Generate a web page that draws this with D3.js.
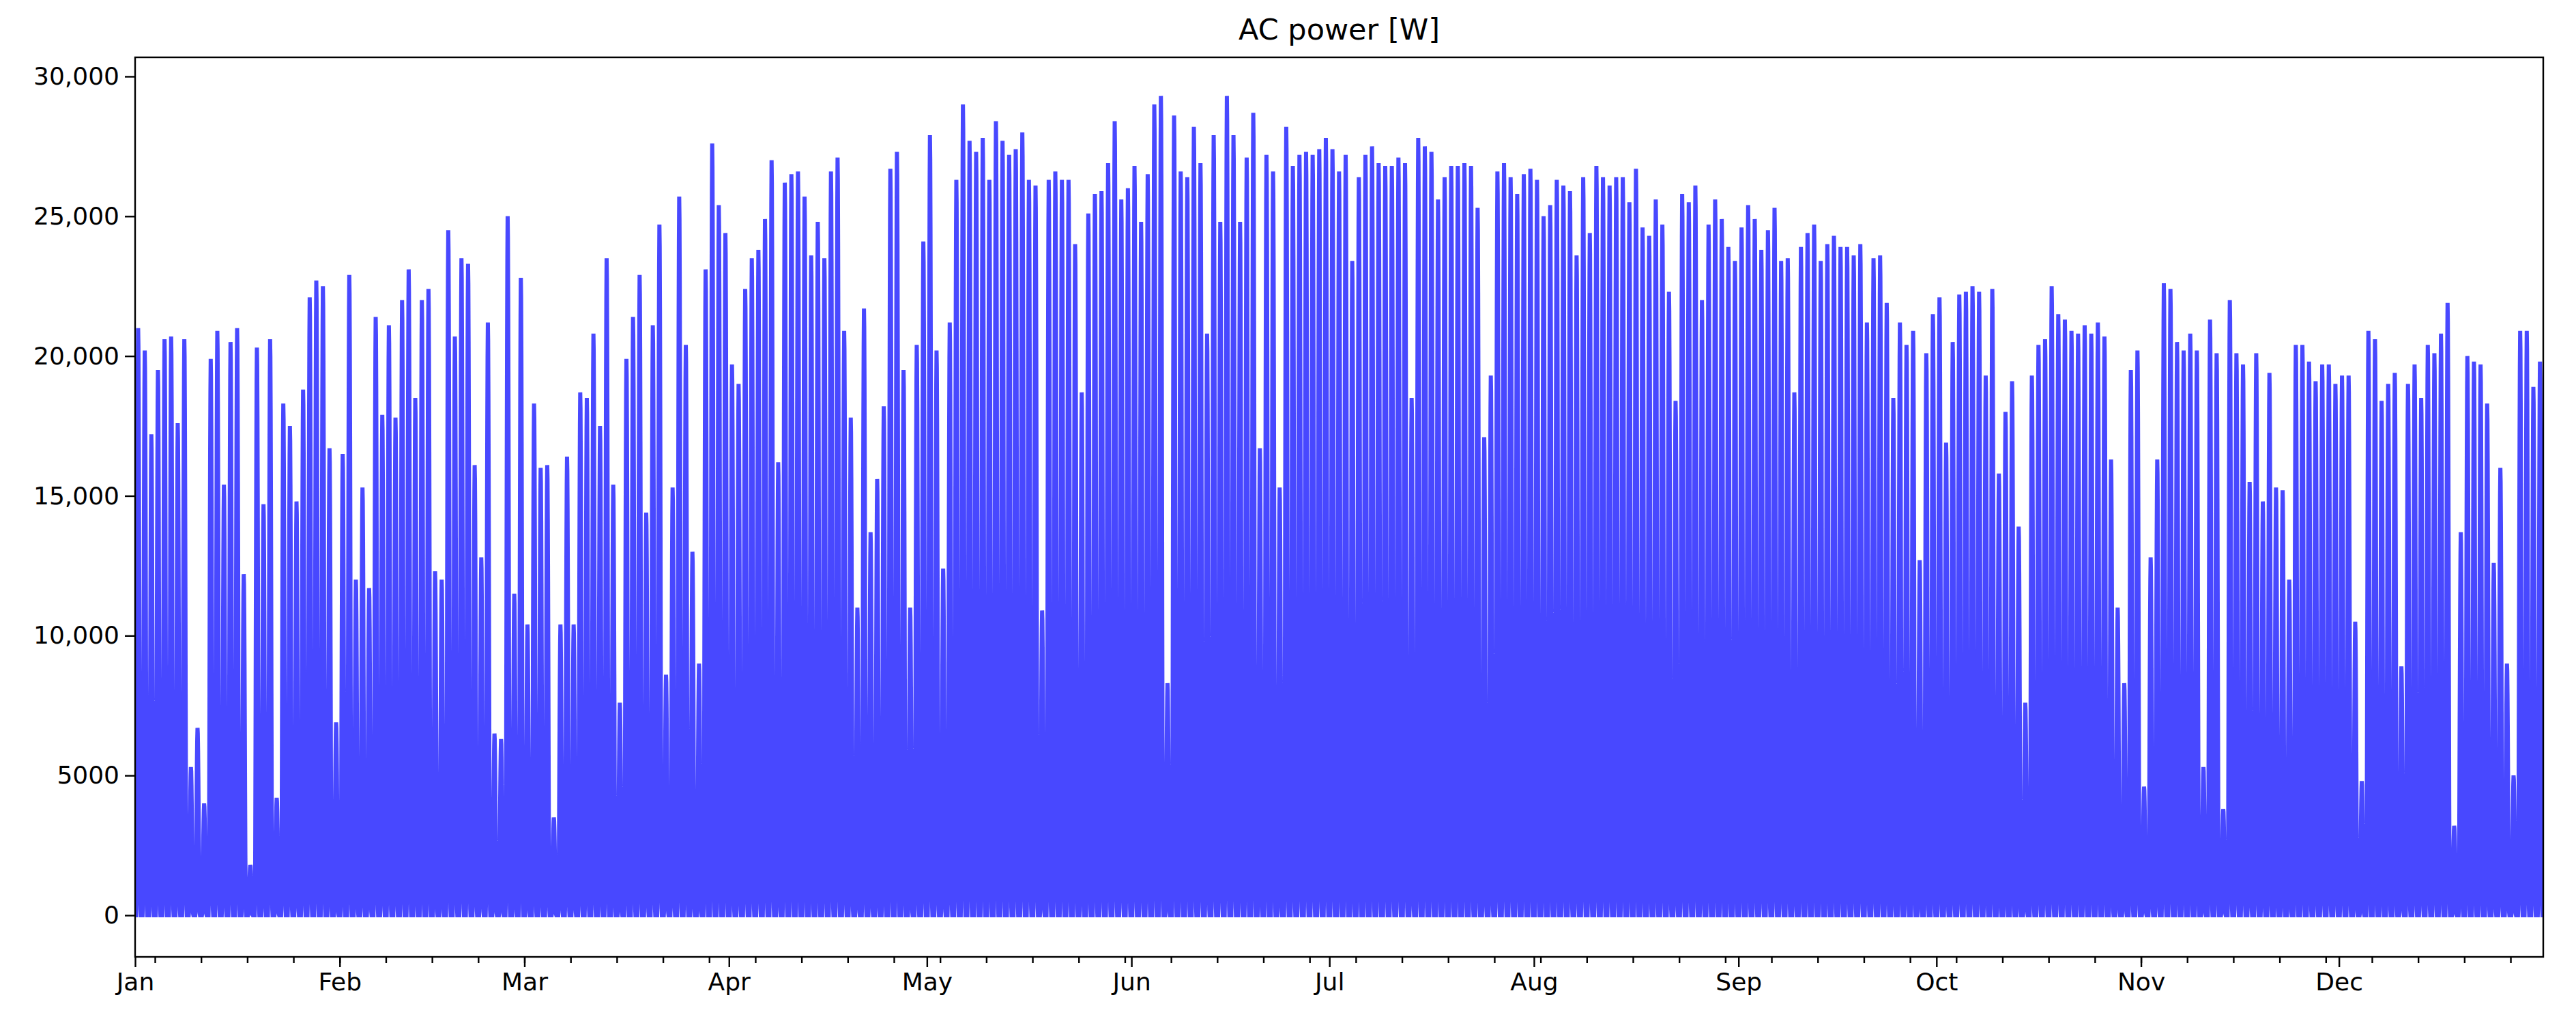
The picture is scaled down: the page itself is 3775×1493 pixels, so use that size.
<html>
<head>
<script src="https://d3js.org/d3.v7.min.js"></script>
<style>
body { margin: 0; background: #fff; }
text { font-family: 'DejaVu Sans', sans-serif; }
</style>
</head>
<body>
<svg id="chart" width="3775" height="1493"></svg>
<script>
// daily peak AC power, kW (Jan 1 .. Dec 31)
var janFeb = [21.0,20.2,17.2,19.5,20.6,20.7,17.6,20.6,5.3,6.7,4.0,19.9,20.9,15.4,20.5,21.0,12.2,1.8,20.3,14.7,
  20.6,4.2,18.3,17.5,14.8,18.8,22.1,22.7,22.5,16.7,6.9,16.5,22.9,12.0,15.3,11.7,21.4,17.9,21.1,17.8,
  22.0,23.1,18.5,22.0,22.4,12.3,12.0,24.5,20.7,23.5,23.3,16.1,12.8,21.2,6.5,6.3,25.0,11.5,22.8,10.4,
  18.3,16.0];
var marMay = [16.1,3.5,10.4,16.4,10.4,18.7,18.5,20.8,17.5,23.5,15.4,7.6,19.9,21.4,22.9,14.4,21.1,24.7,8.6,15.3,
  25.7,20.4,13.0,9.0,23.1,27.6,25.4,24.4,19.7,19.0,22.4,23.5,23.8,24.9,27.0,16.2,26.2,26.5,26.6,25.7,
  23.6,24.8,23.5,26.6,27.1,20.9,17.8,11.0,21.7,13.7,15.6,18.2,26.7,27.3,19.5,11.0,20.4,24.1,27.9,20.2,
  12.4,21.2,26.3,29.0,27.7,27.3,27.8,26.3,28.4,27.7,27.2,27.4,28.0,26.3];
var mayJul = [26.1,10.9,26.3,26.6,26.3,26.3,24.0,18.7,25.1,25.8,25.9,26.9,28.4,25.6,26.0,26.8,24.8,26.5,29.0,29.3,
  8.3,28.6,26.6,26.4,28.2,26.9,20.8,27.9,24.8,29.3,27.9,24.8,27.1,28.7,16.7,27.2,26.6,15.3,28.2,26.8,
  27.2,27.3,27.2,27.4,27.8,27.4,26.6,27.2,23.4,26.4,27.2,27.5,26.9,26.8,26.8,27.1,26.9,18.5,27.8,27.5,
  27.3,25.6,26.4,26.8,26.8,26.9,26.8,25.3,17.1,19.3,26.6,26.9];
var julOct = [26.4,25.8,26.5,26.7,26.3,25.0,25.4,26.3,26.1,25.9,23.6,26.4,24.4,26.8,26.4,26.1,26.4,26.4,25.5,26.7,
  24.6,24.3,25.6,24.7,22.3,18.4,25.8,25.5,26.1,22.0,24.7,25.6,24.9,23.9,23.4,24.6,25.4,24.9,23.8,24.5,
  25.3,23.4,23.5,18.7,23.9,24.4,24.7,23.4,24.0,24.3,23.9,23.9,23.6,24.0,21.2,23.5,23.6,21.9,18.5,21.2,
  20.4,20.9,12.7,20.1,21.5,22.1,16.9,20.5,22.2,22.3,22.5,22.3,19.3];
var octDec = [22.4,15.8,18.0,19.1,13.9,7.6,19.3,20.4,20.6,22.5,21.5,21.3,20.9,20.8,21.1,20.8,21.2,20.7,16.3,11.0,
  8.3,19.5,20.2,4.6,12.8,16.3,22.6,22.4,20.5,20.2,20.8,20.2,5.3,21.3,20.1,3.8,22.0,20.1,19.7,15.5,
  20.1,14.8,19.4,15.3,15.2,12.0,20.4,20.4,19.8,19.1,19.7,19.7,19.0,19.3,19.3,10.5,4.8,20.9,20.6,18.4,
  19.0,19.4,8.9,19.0,19.7,18.5,20.4,20.1,20.8,21.9,3.2,13.7];
var decEnd = [20.0,19.8,19.7,18.3,12.6,16.0,9.0,5.0,20.9,20.9,18.9,19.8];

// shape of one day, fraction of the day's peak per hour (0..23)
var hourShape = [0,0,0,0,0.02,0.12,0.3,0.5,0.68,0.83,0.94,1,0.97,0.88,0.74,0.56,0.36,0.18,0.06,0.01,0,0,0,0];

var yTicks = [0, 5000, 10000, 15000, 20000, 25000, 30000];
var monthLabels = ["Jan","Feb","Mar","Apr","May","Jun","Jul","Aug","Sep","Oct","Nov","Dec"];

var peaks = janFeb.concat(marMay, mayJul, julOct, octDec, decEnd);

var series = [];
peaks.forEach(function (p, i) {
  hourShape.forEach(function (f, h) {
    series.push({ t: new Date(2015, 0, 1 + i, h), v: p * 1000 * f });
  });
});

var pLeft = 198, pRight = 3727, pTop = 84, pBottom = 1402;
var svg = d3.select("#chart");

var x = d3.scaleTime()
  .domain([new Date(2015, 0, 1), new Date(2015, 11, 31, 23)])
  .range([pLeft, pRight]);
var y = d3.scaleLinear().domain([-1489, 30683]).range([pBottom, pTop]);

svg.append("clipPath").attr("id", "clip")
  .append("rect").attr("x", pLeft).attr("y", pTop)
  .attr("width", pRight - pLeft).attr("height", pBottom - pTop);

var line = d3.line().x(function (d) { return x(d.t); }).y(function (d) { return y(d.v); });

svg.append("path")
  .datum(series)
  .attr("clip-path", "url(#clip)")
  .attr("d", line)
  .attr("fill", "none")
  .attr("stroke", "#4848ff")
  .attr("stroke-width", 6)
  .attr("stroke-linejoin", "miter");

// y axis
var fmt = d3.format(",");
var yAxis = d3.axisLeft(y).tickValues(yTicks).tickSize(15).tickPadding(8)
  .tickFormat(function (d) { return d >= 10000 ? fmt(d) : String(d); });
svg.append("g").attr("transform", "translate(" + pLeft + ",0)").call(yAxis);

// x axis: weekly minor ticks, monthly major ticks with labels
var minor = d3.timeSunday.range(new Date(2015, 0, 1), new Date(2015, 11, 31, 23));
svg.append("g").attr("transform", "translate(0," + pBottom + ")")
  .call(d3.axisBottom(x).tickValues(minor).tickSize(9).tickFormat(""));
var months = d3.timeMonth.range(new Date(2015, 0, 1), new Date(2016, 0, 1));
svg.append("g").attr("transform", "translate(0," + pBottom + ")")
  .call(d3.axisBottom(x).tickValues(months).tickSize(15).tickPadding(8)
    .tickFormat(function (d) { return monthLabels[d.getMonth()]; }));

svg.selectAll(".domain").remove();
svg.selectAll(".tick line").attr("stroke", "#000").attr("stroke-width", 2.4);
svg.selectAll(".tick text").attr("font-size", 36).attr("fill", "#000")
  .attr("font-family", "'DejaVu Sans', sans-serif");

// frame
svg.append("rect").attr("x", pLeft).attr("y", pTop)
  .attr("width", pRight - pLeft).attr("height", pBottom - pTop)
  .attr("fill", "none").attr("stroke", "#000").attr("stroke-width", 2.4);

svg.append("text").attr("x", (pLeft + pRight) / 2).attr("y", 58)
  .attr("text-anchor", "middle").attr("font-size", 43).text("AC power [W]");
</script>
</body>
</html>
